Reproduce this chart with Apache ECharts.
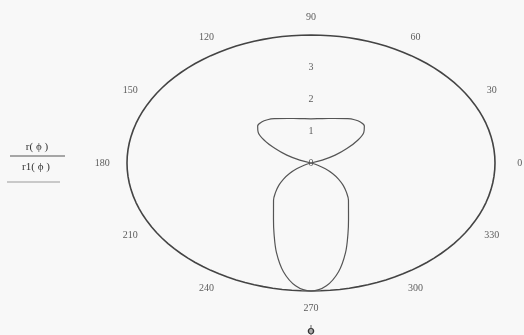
<!DOCTYPE html>
<html><head><meta charset="utf-8">
<script src="https://cdn.jsdelivr.net/npm/echarts@6/dist/echarts.min.js"></script>
<style>html,body{margin:0;padding:0;background:#f8f8f8}#c{width:524px;height:335px}</style>
</head><body><div id="c"></div>
<script>
// ---- data ----
const rMax = 4;
const angleTicks = [0, 30, 60, 90, 120, 150, 180, 210, 240, 270, 300, 330];
const radialTicks = [0, 1, 2, 3];
// curve r(phi): upper loop
const phiR = [16, 20, 25, 30, 35, 40, 45, 50, 55, 60, 70, 80, 90, 100, 110, 120, 125, 130, 135, 140, 145, 150, 155, 160, 164];
const rVals = [0, 0.26, 0.58, 0.9, 1.24, 1.5, 1.64, 1.67, 1.65, 1.6, 1.48, 1.41, 1.38, 1.41, 1.48, 1.6, 1.65, 1.67, 1.64, 1.5, 1.24, 0.9, 0.58, 0.26, 0];
// curve r1(phi): lower loop
const phiR1 = [202, 205, 210, 215, 220, 225, 230, 235, 240, 245, 250, 255, 260, 265, 270, 275, 280, 285, 290, 295, 300, 305, 310, 315, 320, 325, 330, 335, 338];
const r1Vals = [0, 0.15, 0.36, 0.57, 0.78, 0.99, 1.2, 1.42, 1.63, 1.93, 2.35, 2.9, 3.45, 3.85, 4.0, 3.85, 3.45, 2.9, 2.35, 1.93, 1.63, 1.42, 1.2, 0.99, 0.78, 0.57, 0.36, 0.15, 0];

// ---- helpers ----
const rad = d => d * Math.PI / 180;
const toXY = (phi, r) => [r * Math.cos(rad(phi)), r * Math.sin(rad(phi))];
const frameAngles = [];
for (let a = 0; a <= 360; a += 3) frameAngles.push(a);
const labelR = rMax * 1.135;
const font = 'Liberation Serif';
const txt = '#333';

const chart = echarts.init(document.getElementById('c'), null, {renderer: 'canvas'});
chart.setOption({
  backgroundColor: '#f8f8f8',
  animation: false,
  grid: {left: 127, top: 35, width: 368, height: 256, containLabel: false, outerBoundsMode: 'none'},
  xAxis: {type: 'value', min: -rMax, max: rMax, name: 'ϕ', nameLocation: 'middle', nameGap: 34,
    nameTextStyle: {fontFamily: font, fontSize: 12, color: txt, fontWeight: 'bold'},
    axisLine: {show: false}, axisTick: {show: false}, axisLabel: {show: false}, splitLine: {show: false}},
  yAxis: {type: 'value', min: -rMax, max: rMax,
    axisLine: {show: false}, axisTick: {show: false}, axisLabel: {show: false}, splitLine: {show: false}},
  graphic: [
    {type: 'text', x: 37, y: 147, style: {text: 'r( ϕ )', font: '11px "Liberation Serif"', fill: txt, align: 'center', verticalAlign: 'middle'}},
    {type: 'line', shape: {x1: 10, y1: 156, x2: 65, y2: 156}, style: {stroke: '#555', lineWidth: 1}},
    {type: 'text', x: 36, y: 167, style: {text: 'r1( ϕ )', font: '11px "Liberation Serif"', fill: txt, align: 'center', verticalAlign: 'middle'}},
    {type: 'line', shape: {x1: 7, y1: 182, x2: 60, y2: 182}, style: {stroke: '#999', lineWidth: 1.2}},
  ],
  series: [
    {type: 'line', name: 'frame', silent: true, symbol: 'none', clip: false,
      lineStyle: {color: '#444', width: 1.6},
      data: frameAngles.map(a => toXY(a, rMax))},
    {type: 'line', name: 'r', symbol: 'none', smooth: 0.35, clip: false,
      lineStyle: {color: '#555', width: 1.2},
      data: phiR.map((p, i) => toXY(p, rVals[i]))},
    {type: 'line', name: 'r1', symbol: 'none', smooth: 0.35, clip: false,
      lineStyle: {color: '#555', width: 1.2},
      data: phiR1.map((p, i) => toXY(p, r1Vals[i]))},
    {type: 'scatter', name: 'angleLabels', silent: true, clip: false, symbolSize: 0,
      label: {show: true, position: 'inside', formatter: p => p.data[2], fontFamily: font, fontSize: 10, color: txt},
      data: angleTicks.map(a => toXY(a, labelR).concat([String(a)]))},
    {type: 'scatter', name: 'radialLabels', silent: true, clip: false, symbolSize: 0,
      label: {show: true, position: 'inside', formatter: p => p.data[2], fontFamily: font, fontSize: 10, color: txt},
      data: radialTicks.map(r => toXY(90, r).concat([String(r)]))}
  ]
});
</script></body></html>
